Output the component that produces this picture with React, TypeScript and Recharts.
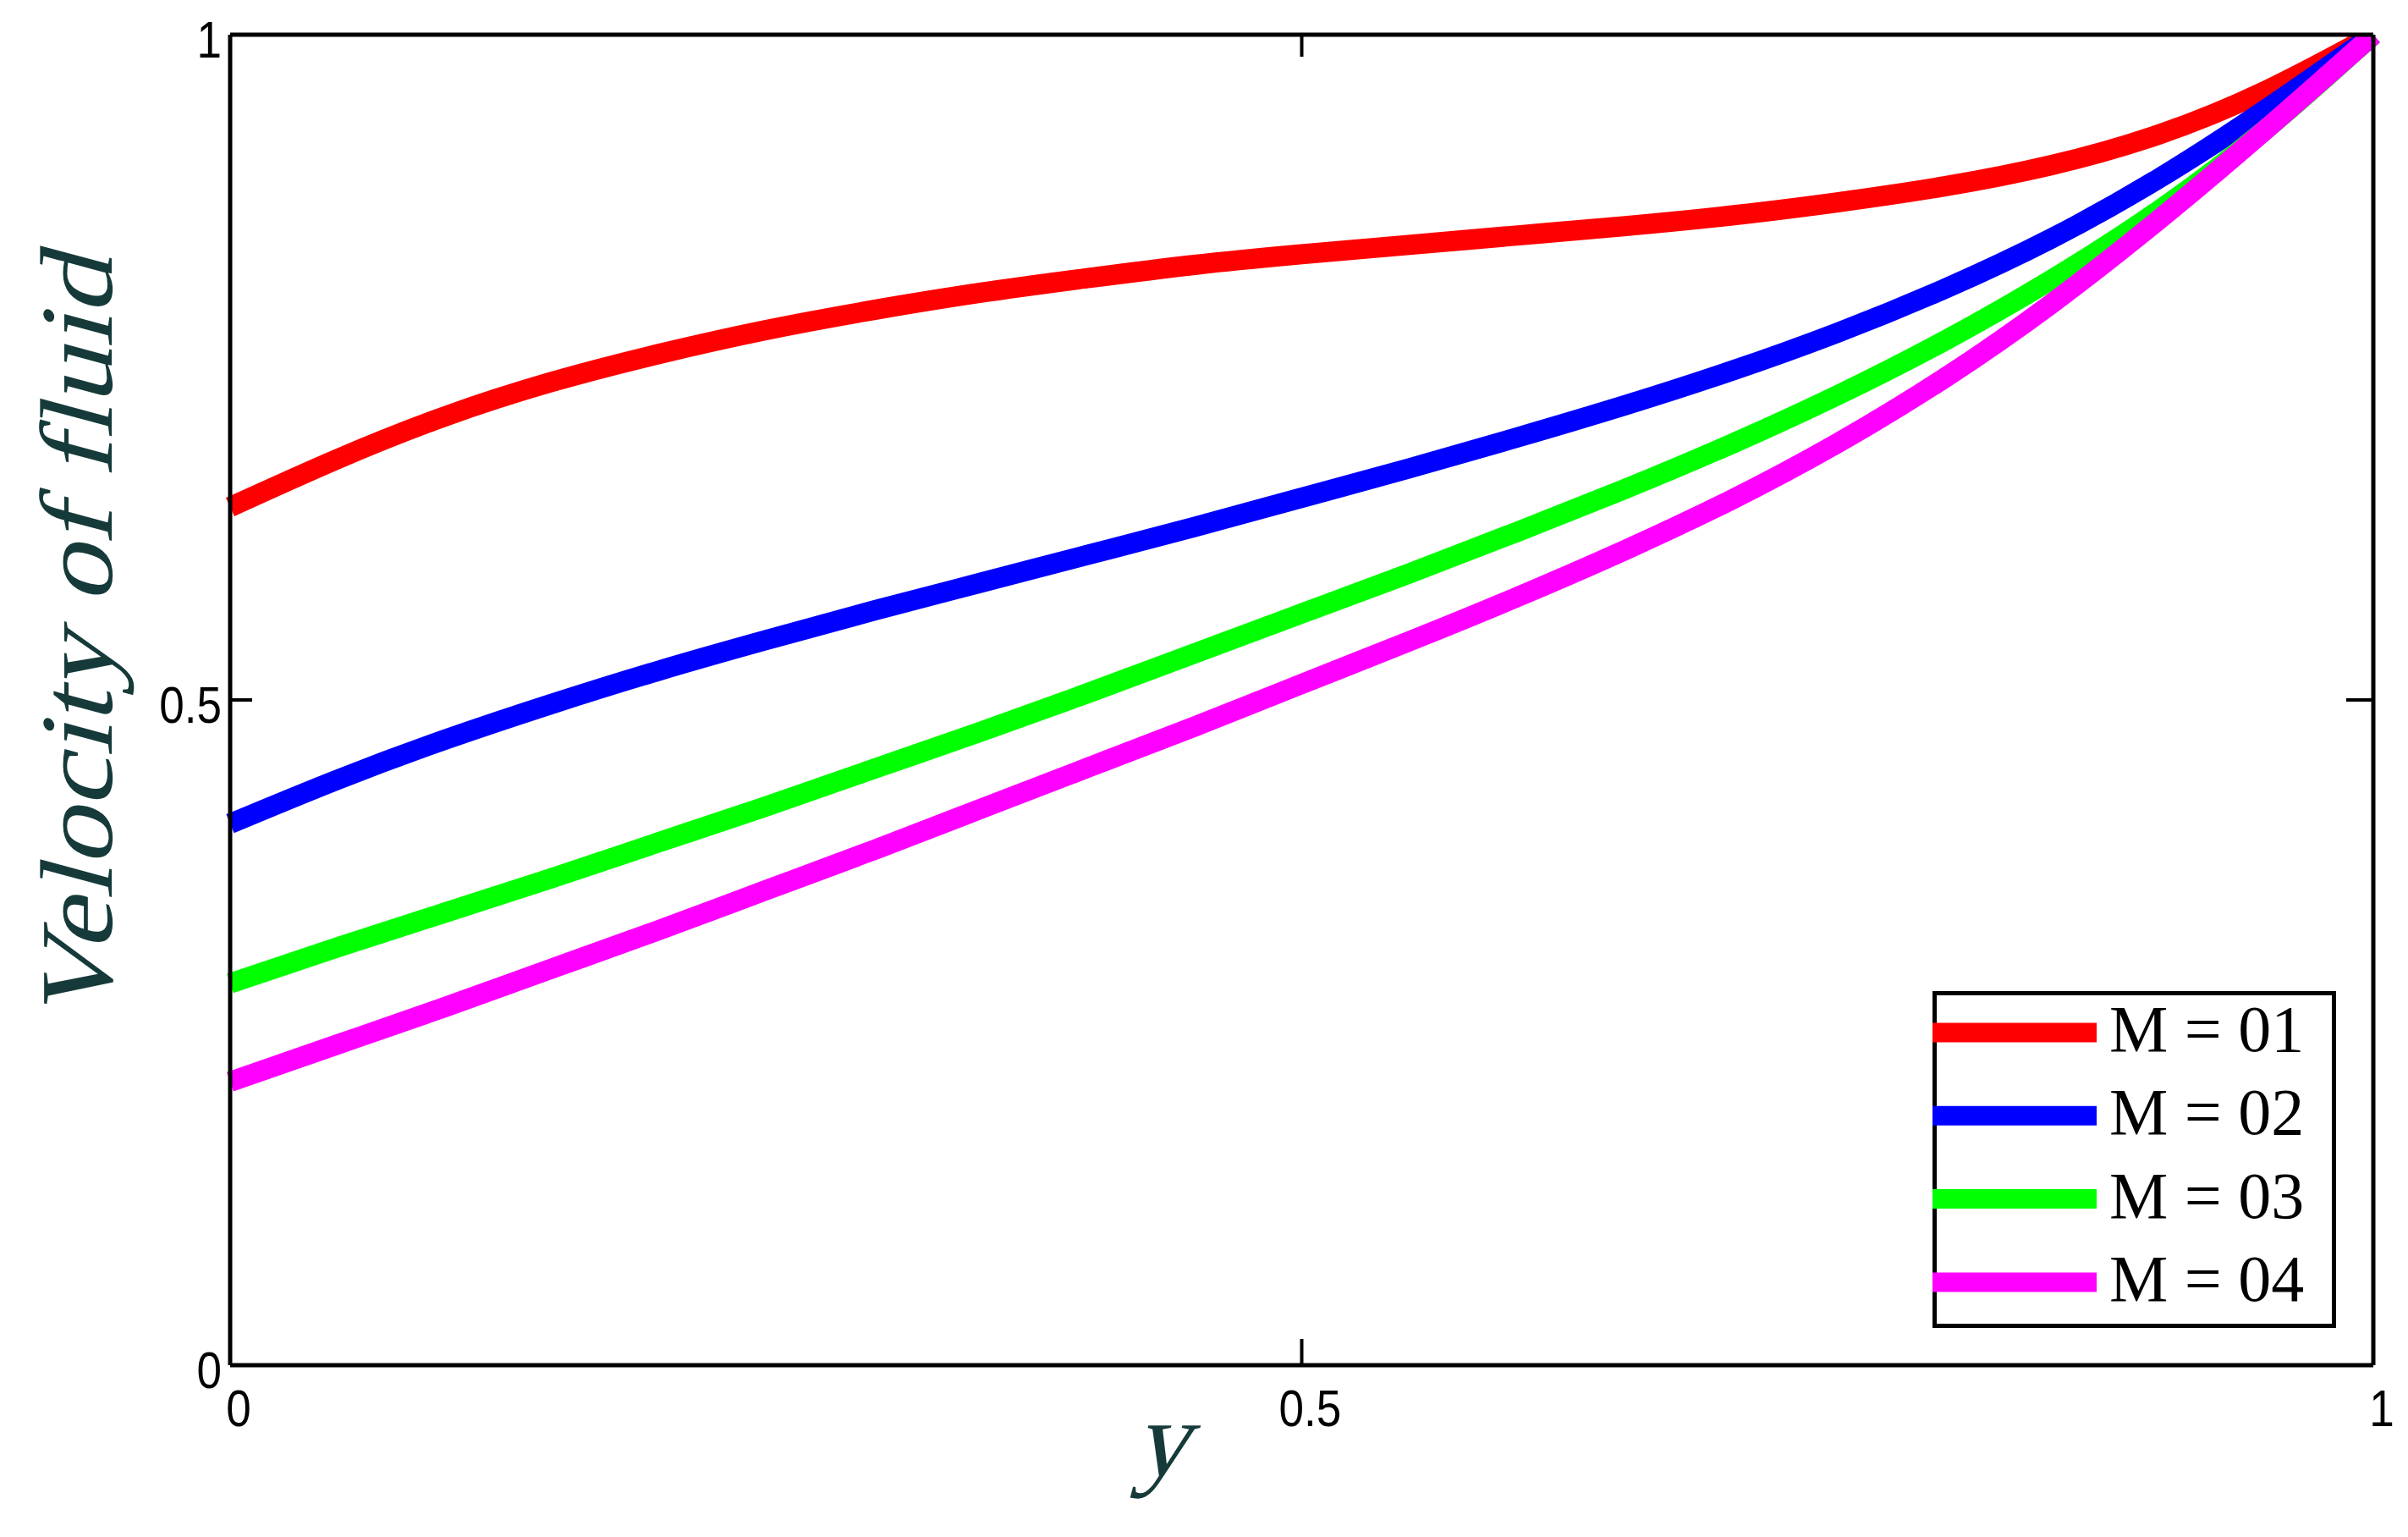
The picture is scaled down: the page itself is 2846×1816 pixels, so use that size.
import React from "react";
import { LineChart, Line, XAxis, YAxis, Legend } from "recharts";

const yGrid = [0, 0.05, 0.1, 0.15, 0.2, 0.25, 0.3, 0.35, 0.4, 0.45, 0.5, 0.55, 0.6, 0.65, 0.7, 0.75, 0.8, 0.85, 0.9, 0.95, 1];
const velocityM1 = [0.645, 0.681, 0.713, 0.739, 0.76, 0.778, 0.793, 0.806, 0.817, 0.827, 0.835, 0.842, 0.849, 0.856, 0.864, 0.874, 0.886, 0.902, 0.925, 0.958, 1.0];
const velocityM2 = [0.407, 0.44, 0.47, 0.497, 0.522, 0.545, 0.567, 0.588, 0.609, 0.63, 0.652, 0.674, 0.697, 0.721, 0.747, 0.776, 0.809, 0.847, 0.892, 0.944, 1.0];
const velocityM3 = [0.287, 0.314, 0.34, 0.366, 0.393, 0.42, 0.448, 0.476, 0.505, 0.535, 0.565, 0.595, 0.626, 0.658, 0.692, 0.729, 0.77, 0.816, 0.868, 0.929, 1.0];
const velocityM4 = [0.213, 0.241, 0.269, 0.298, 0.327, 0.357, 0.387, 0.418, 0.449, 0.48, 0.512, 0.544, 0.577, 0.612, 0.65, 0.693, 0.742, 0.798, 0.861, 0.929, 1.0];

const seriesKeys = ["m1", "m2", "m3", "m4"];
const seriesNames = ["M = 01", "M = 02", "M = 03", "M = 04"];
const seriesColors = ["#ff0000", "#0000ff", "#00ff00", "#ff00ff"];
const xTicks = [0, 0.5, 1];
const yTicks = [0, 0.5, 1];
const xTitle = "y";
const yTitle = "Velocity of  fluid";

const data = yGrid.map((x, i) => ({
  x,
  m1: velocityM1[i],
  m2: velocityM2[i],
  m3: velocityM3[i],
  m4: velocityM4[i],
}));

const TICK_FONT = "'Liberation Sans', Arial, sans-serif";
const TITLE_FONT = "'Liberation Serif', 'Times New Roman', serif";
const TITLE_COLOR = "#163a3a";

const LeftTick = (props: any) => {
  const { x, y, payload } = props;
  return (
    <g>
      <line x1={x} y1={y} x2={x + 26} y2={y} stroke="#000" strokeWidth={4} />
      <text
        transform={`translate(${x - 10},${y + 27}) scale(0.87,1)`}
        textAnchor="end"
        fontSize={61}
        fontFamily={TICK_FONT}
        fill="#000"
      >
        {String(payload.value)}
      </text>
    </g>
  );
};

const BottomTick = (props: any) => {
  const { x, y, payload } = props;
  return (
    <g>
      <line x1={x} y1={y} x2={x} y2={y - 31} stroke="#000" strokeWidth={4} />
      <text
        transform={`translate(${x + 10},${y + 72}) scale(0.87,1)`}
        textAnchor="middle"
        fontSize={61}
        fontFamily={TICK_FONT}
        fill="#000"
      >
        {String(payload.value)}
      </text>
    </g>
  );
};

const RightTick = (props: any) => {
  const { x, y } = props;
  return <line x1={x} y1={y} x2={x - 32} y2={y} stroke="#000" strokeWidth={4} />;
};

const TopTick = (props: any) => {
  const { x, y } = props;
  return <line x1={x} y1={y} x2={x} y2={y + 26} stroke="#000" strokeWidth={4} />;
};

const YTitle = () => (
  <text
    transform="translate(132,756) rotate(-90) skewX(-15)"
    textAnchor="middle"
    fontSize={122}
    fontStyle="normal"
    fontFamily={TITLE_FONT}
    fill={TITLE_COLOR}
    textLength={905}
    lengthAdjust="spacingAndGlyphs"
  >
    {yTitle}
  </text>
);

const XTitle = () => (
  <text
    transform="translate(1372,1743) skewX(-15)"
    textAnchor="middle"
    fontSize={128}
    fontStyle="normal"
    fontFamily={TITLE_FONT}
    fill={TITLE_COLOR}
  >
    {xTitle}
  </text>
);

const LegendBox = () => (
  <div
    style={{
      position: "relative",
      width: 477,
      height: 398,
      boxSizing: "border-box",
      border: "5px solid #000",
      background: "#fff",
    }}
  >
    <svg width={477} height={398} style={{ position: "absolute", left: -5, top: -5 }}>
      {seriesNames.map((name, i) => {
        const cy = 49 + i * 98.3;
        return (
          <g key={name}>
            <line x1={0} y1={cy} x2={194} y2={cy} stroke={seriesColors[i]} strokeWidth={23} />
            <text x={209} y={cy + 22} fontSize={78} fontFamily={TITLE_FONT} fill="#000">
              {name}
            </text>
          </g>
        );
      })}
    </svg>
  </div>
);

export default function App() {
  return (
    <div style={{ position: "absolute", left: 0, top: 0, background: "#fff" }}>
      <LineChart
        width={2846}
        height={1816}
        data={data}
        margin={{ top: 40, right: 40, bottom: 202, left: 271 }}
      >
        <XAxis
          dataKey="x"
          type="number"
          domain={[0, 1]}
          ticks={xTicks}
          xAxisId="bottom"
          orientation="bottom"
          height={1}
          tickSize={0}
          tickMargin={0}
          tickLine={false}
          tick={<BottomTick />}
          axisLine={{ stroke: "#000", strokeWidth: 5 }}
          interval={0}
          label={<XTitle />}
        />
        <XAxis
          dataKey="x"
          type="number"
          domain={[0, 1]}
          ticks={xTicks}
          xAxisId="top"
          orientation="top"
          height={1}
          tickSize={0}
          tickMargin={0}
          tickLine={false}
          tick={<TopTick />}
          axisLine={{ stroke: "#000", strokeWidth: 5 }}
          interval={0}
        />
        <YAxis
          type="number"
          domain={[0, 1]}
          ticks={yTicks}
          yAxisId="left"
          orientation="left"
          width={1}
          tickSize={0}
          tickMargin={0}
          tickLine={false}
          tick={<LeftTick />}
          axisLine={{ stroke: "#000", strokeWidth: 5 }}
          interval={0}
          allowDataOverflow
          label={<YTitle />}
        />
        <YAxis
          type="number"
          domain={[0, 1]}
          ticks={yTicks}
          yAxisId="right"
          orientation="right"
          width={1}
          tickSize={0}
          tickMargin={0}
          tickLine={false}
          tick={<RightTick />}
          axisLine={{ stroke: "#000", strokeWidth: 5 }}
          interval={0}
          allowDataOverflow
        />
        <Legend
          layout="horizontal"
          verticalAlign="middle"
          align="center"
          content={<LegendBox />}
          wrapperStyle={{ position: "absolute", left: 2284, top: 1171, width: 477, height: 398 }}
        />
        {seriesKeys.map((k, i) => (
          <Line
            key={k}
            xAxisId="bottom"
            yAxisId="left"
            type="natural"
            dataKey={k}
            name={seriesNames[i]}
            stroke={seriesColors[i]}
            strokeWidth={24}
            dot={false}
            activeDot={false}
            isAnimationActive={false}
          />
        ))}
      </LineChart>
    </div>
  );
}
